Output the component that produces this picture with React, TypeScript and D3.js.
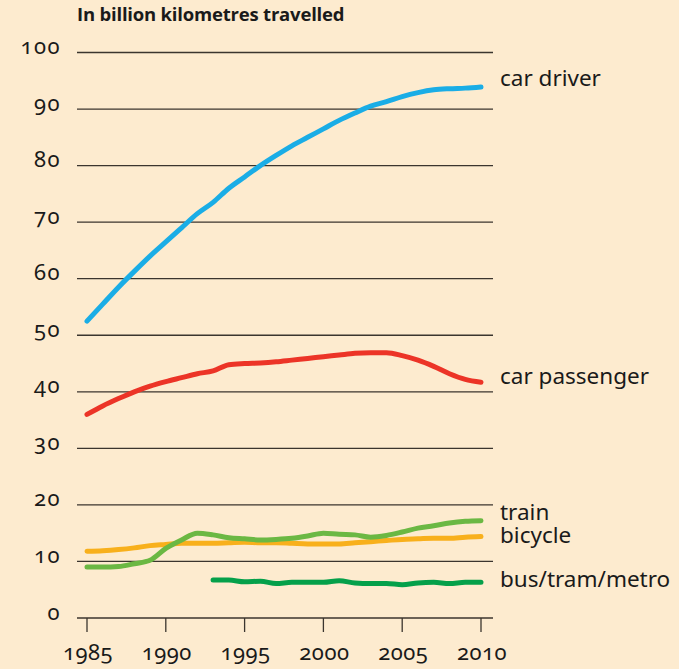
import React from 'react';
import * as d3 from 'd3';

// billion km travelled, the Netherlands
const years = d3.range(1985, 2011);
const carDriver = [52.5, 55.5, 58.5, 61.3, 64, 66.5, 69, 71.5, 73.5, 76, 78, 80, 81.8, 83.5, 85, 86.5, 88, 89.3, 90.5, 91.3, 92.2, 92.9, 93.4, 93.6, 93.7, 93.9];
const carPassenger = [36, 37.5, 38.8, 40, 41, 41.8, 42.5, 43.2, 43.7, 44.8, 45, 45.1, 45.3, 45.6, 45.9, 46.2, 46.5, 46.8, 46.9, 46.9, 46.4, 45.6, 44.5, 43.2, 42.2, 41.7];
const train = [9.0, 9.0, 9.1, 9.6, 10.2, 12.3, 13.8, 15.0, 14.7, 14.2, 14.0, 13.8, 13.9, 14.1, 14.5, 15.0, 14.8, 14.7, 14.3, 14.6, 15.2, 15.9, 16.3, 16.8, 17.1, 17.2];
const bicycle = [11.8, 11.9, 12.1, 12.4, 12.8, 13.0, 13.2, 13.2, 13.2, 13.3, 13.4, 13.3, 13.3, 13.2, 13.1, 13.1, 13.1, 13.3, 13.5, 13.7, 13.9, 14.0, 14.1, 14.1, 14.3, 14.4];
const busYears = d3.range(1993, 2011);
const bus = [6.7, 6.7, 6.4, 6.5, 6.1, 6.3, 6.3, 6.3, 6.6, 6.2, 6.1, 6.1, 5.9, 6.2, 6.3, 6.1, 6.3, 6.3];

const yTicks = [0, 10, 20, 30, 40, 50, 60, 70, 80, 90, 100];
const xTicks = [1985, 1990, 1995, 2000, 2005, 2010];

const series = [
  { name: 'car driver', xs: years, ys: carDriver, color: '#1aade6', labelY: 86 },
  { name: 'car passenger', xs: years, ys: carPassenger, color: '#ec3427', labelY: 384 },
  { name: 'bicycle', xs: years, ys: bicycle, color: '#f8b01c', labelY: 543 },
  { name: 'train', xs: years, ys: train, color: '#6bb843', labelY: 520 },
  { name: 'bus/tram/metro', xs: busYears, ys: bus, color: '#05a04a', labelY: 587 },
];

const W = 679;
const H = 669;
const font = '"Noto Sans", "Open Sans", sans-serif';

export default function App() {
  const x = d3.scaleLinear().domain([1985, 2010]).range([87, 481]);
  const y = d3.scaleLinear().domain([0, 100]).range([618, 52.5]);
  const gridLeft = 77;
  const gridRight = 493;

  const line = (xs: number[], ys: number[]) =>
    d3.line<number>()
      .x((_, i) => x(xs[i]))
      .y((d) => y(d))
      .curve(d3.curveMonotoneX)(ys) || '';

  return (
    <svg width={W} height={H} style={{ position: 'absolute', left: 0, top: 0 }} fontFamily={font}>
      <rect width={W} height={H} fill="#fdebcf" />
      <text x={77} y={21} fontSize={18.5} fontWeight="bold" fill="#1a1a1a" fontFamily='"Open Sans", sans-serif'
        letterSpacing={-0.2}>
        In billion kilometres travelled
      </text>
      {yTicks.map((t) => (
        <g key={t}>
          <line x1={gridLeft} x2={gridRight} y1={y(t)} y2={y(t)} stroke="#3b352e" strokeWidth={1.3} />
          <text x={61} y={y(t) + 1.5} textAnchor="end" fontSize={22} fill="#1a1a1a" letterSpacing={1.5}
            style={{ fontVariantNumeric: 'oldstyle-nums' }}>
            {t}
          </text>
        </g>
      ))}
      {xTicks.map((t) => (
        <g key={t}>
          <line x1={x(t)} x2={x(t)} y1={y(0)} y2={632} stroke="#3b352e" strokeWidth={1.3} />
          <text x={x(t) + 1} y={660} textAnchor="middle" fontSize={22} fill="#1a1a1a" letterSpacing={0.5}
            style={{ fontVariantNumeric: 'oldstyle-nums' }}>
            {t}
          </text>
        </g>
      ))}
      {series.map((s) => (
        <g key={s.name}>
          <path d={line(s.xs, s.ys)} fill="none" stroke={s.color} strokeWidth={5} strokeLinecap="round" strokeLinejoin="round" />
          <text x={500} y={s.labelY} fontSize={22.5} fill="#1a1a1a">{s.name}</text>
        </g>
      ))}
    </svg>
  );
}
